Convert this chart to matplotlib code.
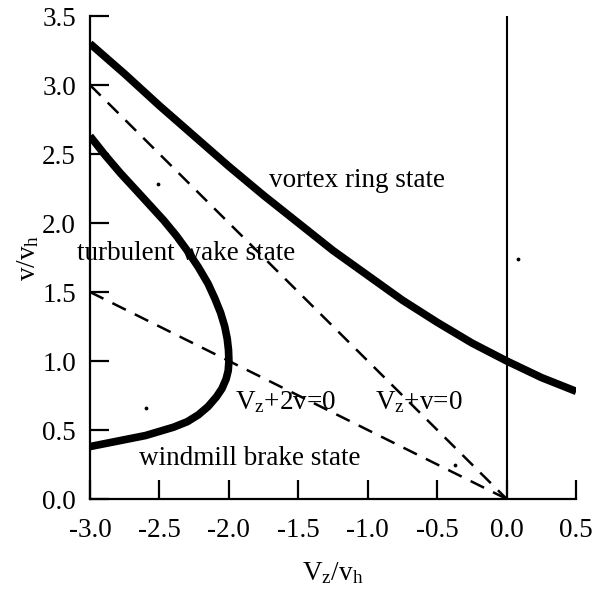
import matplotlib
matplotlib.use("Agg")
import matplotlib.pyplot as plt

plt.rcParams['font.family'] = ['Liberation Serif', 'DejaVu Serif']
plt.rcParams['mathtext.fontset'] = 'custom'
plt.rcParams['mathtext.rm'] = 'Liberation Serif'
plt.rcParams['mathtext.it'] = 'Liberation Serif'

# Data
vz_upper = [-3.0, -2.75, -2.5, -2.25, -2.0, -1.75, -1.5, -1.25, -1.0, -0.75, -0.5, -0.25, 0.0, 0.25, 0.5]
v_upper = [3.30, 3.08, 2.85, 2.63, 2.41, 2.20, 2.00, 1.80, 1.62, 1.44, 1.28, 1.13, 1.00, 0.88, 0.78]

vz_lower = [-3.0, -2.9, -2.8, -2.7, -2.6, -2.5, -2.4, -2.3, -2.22, -2.15, -2.09, -2.05, -2.02, -2.005, -2.0,
            -2.003, -2.012, -2.03, -2.06, -2.1, -2.15, -2.22, -2.3, -2.38, -2.47, -2.57, -2.67, -2.78, -2.89, -3.0]
v_lower = [0.38, 0.40, 0.42, 0.44, 0.46, 0.49, 0.52, 0.56, 0.61, 0.67, 0.74, 0.80, 0.87, 0.93, 1.00,
           1.08, 1.16, 1.25, 1.35, 1.45, 1.56, 1.68, 1.80, 1.91, 2.02, 2.13, 2.24, 2.36, 2.49, 2.63]

vz_line1 = [-3.0, 0.0]   # Vz + v = 0
v_line1 = [3.0, 0.0]
vz_line2 = [-3.0, 0.0]   # Vz + 2v = 0
v_line2 = [1.5, 0.0]

dots_x = [-2.51, 0.08, -2.6, -0.37]
dots_y = [2.28, 1.74, 0.66, 0.25]

xticks = [-3.0, -2.5, -2.0, -1.5, -1.0, -0.5, 0.0, 0.5]
yticks = [0.0, 0.5, 1.0, 1.5, 2.0, 2.5, 3.0, 3.5]

fig = plt.figure(figsize=(6.04, 5.93), dpi=100)
ax = fig.add_axes([0.149, 0.1585, 0.805, 0.8145])

ax.plot(vz_upper, v_upper, color='black', lw=5.5, solid_capstyle='butt')
ax.plot(vz_lower, v_lower, color='black', lw=5.5, solid_capstyle='butt', solid_joinstyle='round')
ax.plot(vz_line1, v_line1, color='black', lw=1.8, dashes=(6, 4))
ax.plot(vz_line2, v_line2, color='black', lw=1.8, dashes=(6, 4))
ax.axvline(0.0, color='black', lw=1.5)
ax.scatter(dots_x, dots_y, s=3, color='black')

fs = 19.5
ax.text(-1.08, 2.31, 'vortex ring state', fontsize=fs, ha='center', va='center')
ax.text(-2.31, 1.78, 'turbulent wake state', fontsize=fs, ha='center', va='center')
ax.text(-1.85, 0.29, 'windmill brake state', fontsize=fs, ha='center', va='center')
ax.text(-1.59, 0.70, r'V$_\mathregular{z}$+2v=0', fontsize=fs, ha='center', va='center')
ax.text(-0.63, 0.70, r'V$_\mathregular{z}$+v=0', fontsize=fs, ha='center', va='center')

ax.set_xlim(-3.0, 0.5)
ax.set_ylim(0.0, 3.5)
ax.set_xticks(xticks)
ax.set_yticks(yticks)
ax.set_xticklabels([f'{t:.1f}' for t in xticks], fontsize=fs)
ax.set_yticklabels([f'{t:.1f}' for t in yticks], fontsize=fs)
ax.tick_params(direction='in', length=14, width=1.6)
ax.tick_params(axis='x', pad=14)
ax.tick_params(axis='y', pad=10)
for s in ['top', 'right']:
    ax.spines[s].set_visible(False)
for s in ['left', 'bottom']:
    ax.spines[s].set_linewidth(1.6)

ax.set_xlabel(r'V$_\mathregular{z}$/v$_\mathregular{h}$', fontsize=fs, labelpad=12)
ax.set_ylabel(r'v/v$_\mathregular{h}$', fontsize=fs, labelpad=1)

fig.savefig('out.png', dpi=100)
